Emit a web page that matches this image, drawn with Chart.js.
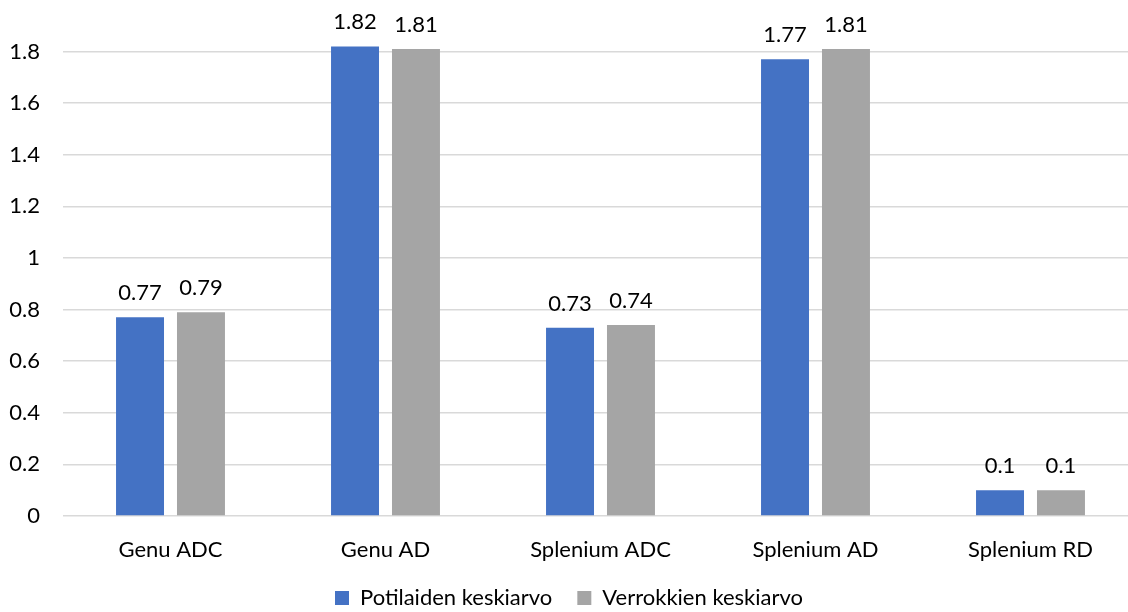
<!DOCTYPE html>
<html>
<head>
<meta charset="utf-8">
<script src="https://cdn.jsdelivr.net/npm/chart.js@4/dist/chart.umd.min.js"></script>
<style>
  html, body { margin: 0; padding: 0; background: #fff; overflow: hidden; }
  #view { width: 1128px; height: 612px; overflow: hidden; position: relative; }
  #wrap { width: 1168px; height: 619px; position: absolute; left: 0; top: 0; }
</style>
</head>
<body>
<div id="view"><div id="wrap"><canvas id="c"></canvas></div></div>
<script>
const categories = ['Genu ADC', 'Genu AD', 'Splenium ADC', 'Splenium AD', 'Splenium RD'];
const patientMeans = [0.77, 1.82, 0.73, 1.77, 0.1];
const controlMeans = [0.79, 1.81, 0.74, 1.81, 0.1];
const seriesNames = ['Potilaiden keskiarvo', 'Verrokkien keskiarvo'];
const yTickLabels = ['0', '0.2', '0.4', '0.6', '0.8', '1', '1.2', '1.4', '1.6', '1.8'];

const FONT = 'Lato, "Liberation Sans", sans-serif';
const TEXT = '#000000';

// Prints each bar's value just above it
const valueLabels = {
  id: 'valueLabels',
  afterDatasetsDraw(chart) {
    const ctx = chart.ctx;
    ctx.save();
    ctx.font = '22px ' + FONT;
    ctx.fillStyle = TEXT;
    ctx.textAlign = 'center';
    ctx.textBaseline = 'alphabetic';
    chart.data.datasets.forEach((ds, i) => {
      chart.getDatasetMeta(i).data.forEach((bar, j) => {
        ctx.fillText(String(ds.data[j]), bar.x, bar.y - 17);
      });
    });
    ctx.restore();
  }
};

new Chart(document.getElementById('c'), {
  type: 'bar',
  data: {
    labels: categories,
    datasets: [
      { label: seriesNames[0], data: patientMeans, backgroundColor: '#4472C4' },
      { label: seriesNames[1], data: controlMeans, backgroundColor: '#A5A5A5' }
    ]
  },
  options: {
    responsive: true,
    maintainAspectRatio: false,
    animation: false,
    categoryPercentage: 0.567,
    barPercentage: 0.787,
    layout: { padding: { top: 0, right: 30, left: 0, bottom: 0 } },
    scales: {
      x: {
        afterFit(scale) { scale.height = 46; scale.paddingLeft = 0; scale.paddingRight = 0; },
        grid: { display: false },
        border: { display: false },
        ticks: { color: TEXT, font: { family: FONT, size: 22 }, padding: 13, maxRotation: 0 }
      },
      y: {
        min: 0,
        max: 2,
        afterFit(scale) { scale.width = 63; scale.paddingTop = 0; scale.paddingBottom = 0; },
        border: { display: false },
        grid: {
          drawTicks: false,
          color: (c) => (c.tick && c.tick.value > 1.9 ? 'rgba(0,0,0,0)' : '#D9D9D9'),
          lineWidth: 1.5
        },
        ticks: {
          stepSize: 0.2,
          padding: 23,
          color: TEXT,
          font: { family: FONT, size: 22 },
          callback: (v, idx) => (idx < yTickLabels.length ? yTickLabels[idx] : '')
        }
      }
    },
    plugins: {
      legend: {
        position: 'bottom',
        labels: {
          color: TEXT,
          font: { family: FONT, size: 22 },
          boxWidth: 14,
          boxHeight: 14,
          padding: 25
        }
      },
      tooltip: { enabled: false }
    }
  },
  plugins: [valueLabels]
});
</script>
</body>
</html>
